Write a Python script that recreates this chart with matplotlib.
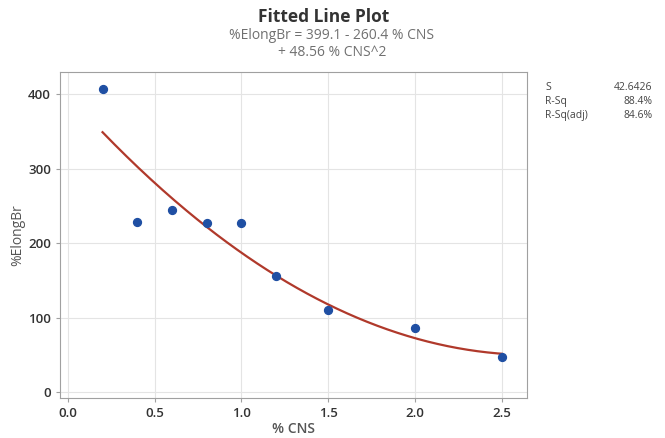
import numpy as np
import matplotlib.pyplot as plt

plt.rcParams["font.family"] = ["Open Sans", "DejaVu Sans"]

cns = [0.2, 0.4, 0.6, 0.8, 1.0, 1.2, 1.5, 2.0, 2.5]
elong = [407, 229, 245, 227, 227, 156, 110, 86, 47]

# fitted model shown in the title: b0 + b1*x + b2*x^2
coef = [399.1, -260.4, 48.56]
stat_names = ["S", "R-Sq", "R-Sq(adj)"]
stat_values = ["42.6426", "88.4%", "84.6%"]

fig = plt.figure(figsize=(6.65, 4.38), dpi=100)
ax = fig.add_axes([0.090, 0.091, 0.702, 0.745])

x_fit = np.linspace(min(cns), max(cns), 200)
y_fit = coef[0] + coef[1] * x_fit + coef[2] * x_fit ** 2
ax.plot(x_fit, y_fit, color="#b0392b", linewidth=1.6, zorder=2)
ax.scatter(cns, elong, s=32, color="#1f4fa3", zorder=3)

ax.set_xlim(-0.046, 2.644)
ax.set_ylim(-8, 430)
ax.set_xticks([0.0, 0.5, 1.0, 1.5, 2.0, 2.5])
ax.set_xticklabels(["0.0", "0.5", "1.0", "1.5", "2.0", "2.5"])
ax.set_yticks([0, 100, 200, 300, 400])
ax.grid(True, color="#e4e4e4", linewidth=0.8)
ax.set_axisbelow(True)
for s in ax.spines.values():
    s.set_color("#a0a0a0")
ax.tick_params(colors="#a0a0a0", labelcolor="#333333", length=3, labelsize=9.5)
for lbl in ax.get_xticklabels() + ax.get_yticklabels():
    lbl.set_fontweight("semibold")

ax.set_xlabel("% CNS", fontsize=10, color="#555555", fontweight="semibold", labelpad=1)
ax.set_ylabel("%ElongBr", fontsize=10, color="#555555", labelpad=2)

fig.text(0.486, 0.962, "Fitted Line Plot", ha="center", va="center",
         fontsize=12.5, fontweight="bold", color="#333333")
fig.text(0.499, 0.918, "%ElongBr = 399.1 - 260.4 % CNS", ha="center", va="center",
         fontsize=10, color="#707070")
fig.text(0.499, 0.881, "+ 48.56 % CNS^2", ha="center", va="center",
         fontsize=10, color="#707070")

for i, (name, val) in enumerate(zip(stat_names, stat_values)):
    y = 0.800 - i * 0.032
    fig.text(0.820, y, name, ha="left", va="center", fontsize=7.5, color="#444444")
    fig.text(0.981, y, val, ha="right", va="center", fontsize=7.5, color="#444444")

fig.savefig("out.png", dpi=100)
